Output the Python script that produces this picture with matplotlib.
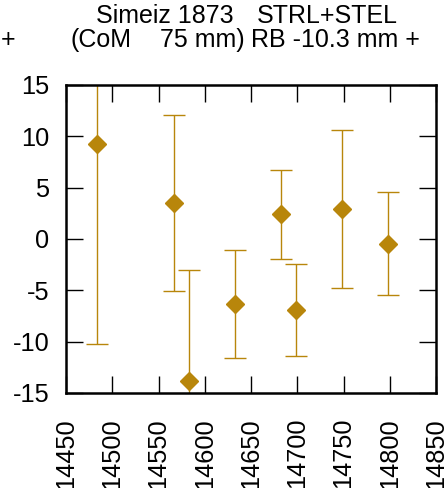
import numpy as np
import matplotlib.pyplot as plt

plt.rcParams['font.family'] = ['Liberation Sans', 'DejaVu Sans']
plt.rcParams['axes.unicode_minus'] = False

# data
jd = [14484, 14567, 14583, 14633, 14682, 14699, 14748, 14798]
resid = [9.3, 3.5, -13.8, -6.3, 2.4, -6.9, 2.9, -0.45]
err = [19.5, 8.6, 10.8, 5.25, 4.3, 4.5, 7.7, 5.0]

xticks = np.arange(14450, 14851, 50)
yticks = np.arange(-15, 16, 5)

fig = plt.figure(figsize=(4.46, 4.88), dpi=100)
ax = fig.add_axes([66 / 446, 1 - 393 / 488, 370 / 446, 308 / 488])

ax.errorbar(jd, resid, yerr=err, fmt='none', ecolor='#b8860b', elinewidth=1.0,
            capsize=8, capthick=1.0)
ax.plot(jd, resid, 'D', color='#b8860b', markersize=9.5, clip_on=False, zorder=3)

ax.set_xlim(14450, 14850)
ax.set_ylim(-15, 15)
ax.set_xticks(xticks)
ax.set_yticks(yticks)
ax.set_xticklabels([str(t) for t in xticks], rotation=90)
ax.tick_params(direction='in', length=12, width=1.0, labelsize=18.3,
               top=True, right=True, color='black')
ax.tick_params(axis='x', pad=18)
ax.tick_params(axis='y', pad=12)
for s in ax.spines.values():
    s.set_linewidth(1.8)

# title, two lines, pieces placed where the reference has them
pieces = [
    (96, 16, 'Simeiz 1873'),
    (257, 16, 'STRL+STEL'),
    (1, 40, '+'),
    (71, 40, '(CoM'),
    (160, 40, '75 mm)'),
    (251, 40, 'RB -10.3 mm +'),
]
for px, py, s in pieces:
    fig.text(px / 446, 1 - py / 488, s, ha='left', va='center', fontsize=18)

fig.savefig('out.png', dpi=100)
